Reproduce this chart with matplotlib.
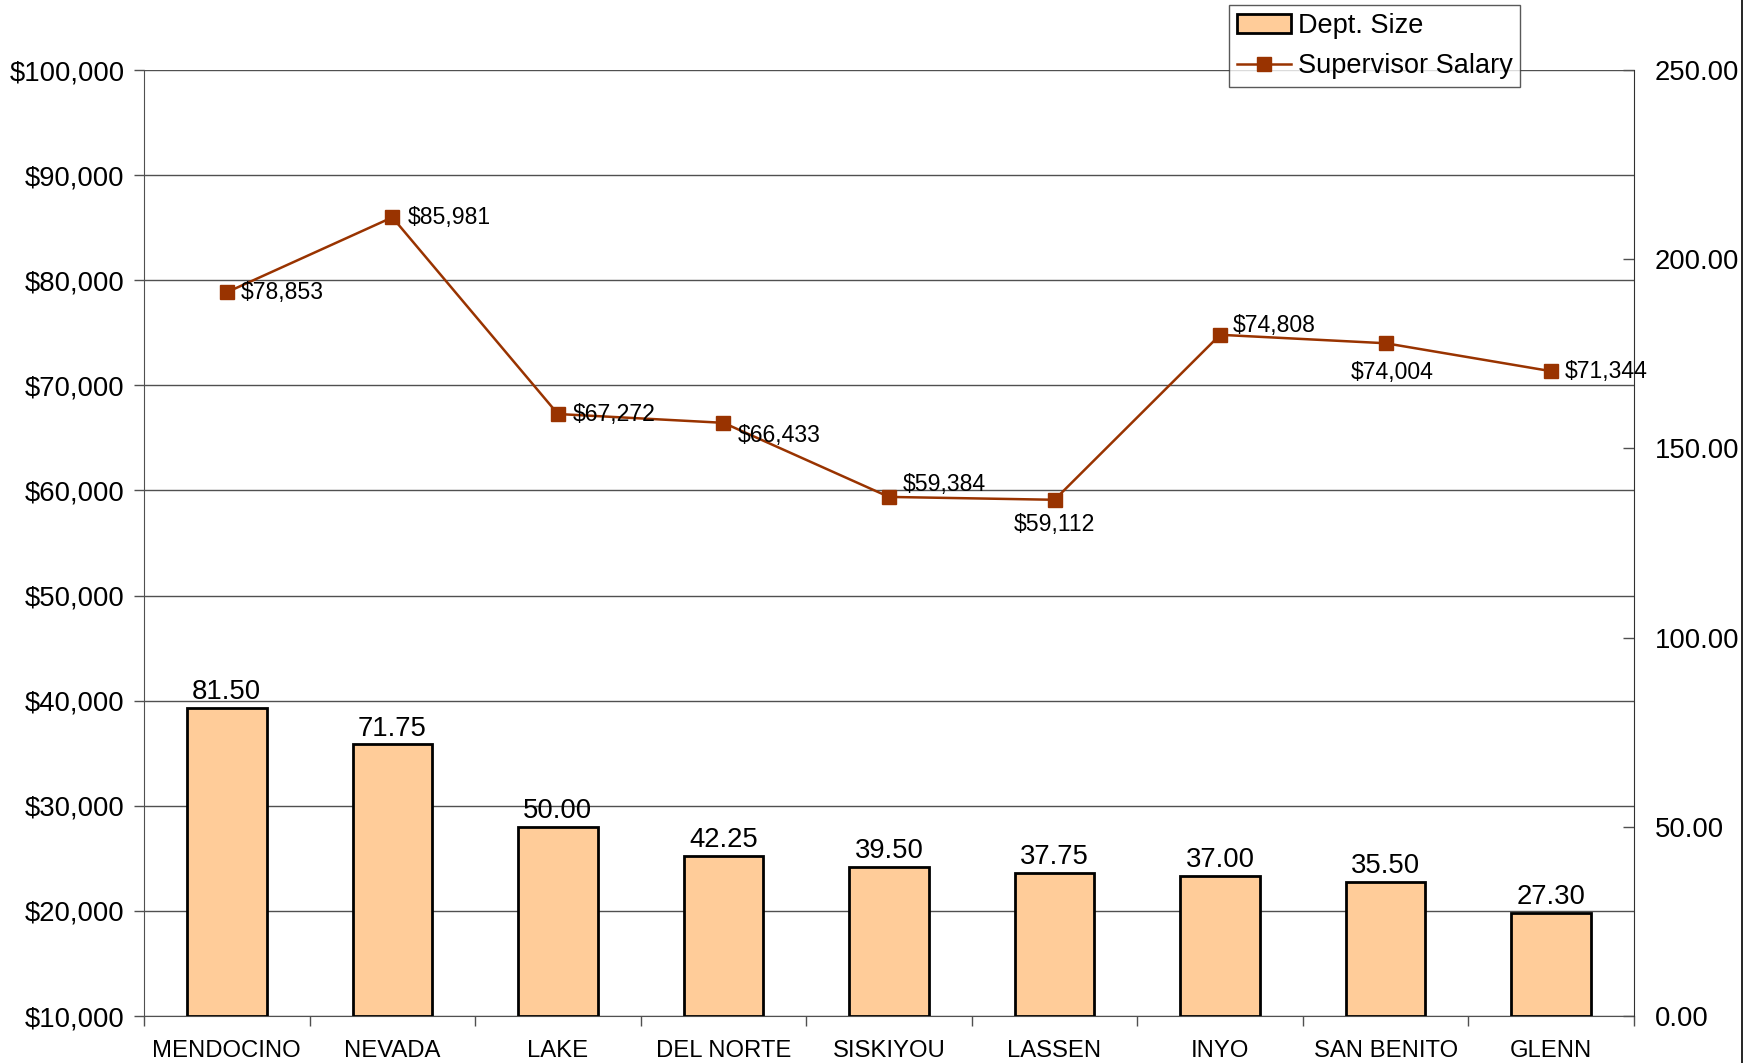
import matplotlib
matplotlib.use("Agg")
import matplotlib.pyplot as plt
from matplotlib.patches import Patch
from matplotlib.lines import Line2D
from matplotlib.ticker import FuncFormatter, FixedLocator

plt.rcParams['font.family'] = ['Liberation Sans', 'DejaVu Sans']

counties = ["MENDOCINO", "NEVADA", "LAKE", "DEL NORTE", "SISKIYOU",
            "LASSEN", "INYO", "SAN BENITO", "GLENN"]
dept_size = [81.50, 71.75, 50.00, 42.25, 39.50, 37.75, 37.00, 35.50, 27.30]
salary = [78853, 85981, 67272, 66433, 59384, 59112, 74808, 74004, 71344]
# label placement for each salary label: (dx, dy) in points, ha, va
salary_label_pos = [
    ((10, 0), 'left', 'center'),
    ((11, 0), 'left', 'center'),
    ((11, 0), 'left', 'center'),
    ((10, -9), 'left', 'center'),
    ((10, 9), 'left', 'center'),
    ((0, -18), 'center', 'center'),
    ((9, 7), 'left', 'center'),
    ((5, -21), 'center', 'center'),
    ((10, 0), 'left', 'center'),
]

BAR_COLOR = '#FFCC99'
LINE_COLOR = '#993300'
GRID_COLOR = '#505050'

fig = plt.figure(figsize=(17.6, 10.63), dpi=100)
L, R, T, B = 144/1760, 1634/1760, 1 - 70/1063, 1 - 1016/1063
ax = fig.add_axes([L, B, R - L, T - B])
ax.set_zorder(0)

x = list(range(len(counties)))
ax.set_xlim(-0.5, len(counties) - 0.5)
ax.set_ylim(10000, 100000)
ax.set_yticks(range(10000, 100001, 10000))
ax.yaxis.set_major_formatter(FuncFormatter(lambda v, p: f"${v:,.0f}"))
ax.grid(axis='y', color=GRID_COLOR, linewidth=1.0)
ax.set_axisbelow(True)
ax.tick_params(axis='y', direction='out', length=7, width=1, color=GRID_COLOR,
               labelsize=19.8, pad=7)
ax.set_xticks(x)
ax.set_xticklabels(counties)
ax.xaxis.set_minor_locator(FixedLocator([i - 0.5 for i in range(len(counties) + 1)]))
ax.tick_params(axis='x', which='major', length=0, labelsize=17.2, pad=17)
ax.tick_params(axis='x', which='minor', direction='out', length=7, width=1, color=GRID_COLOR)
for s in ['top', 'right']:
    ax.spines[s].set_visible(False)
ax.spines['left'].set_color(GRID_COLOR)
ax.spines['bottom'].set_color(GRID_COLOR)

# bars on right axis
ax2 = ax.twinx()
ax2.set_zorder(1)
ax2.patch.set_visible(False)
ax2.set_ylim(0, 250)
ax2.set_yticks(range(0, 251, 50))
ax2.yaxis.set_major_formatter(FuncFormatter(lambda v, p: f"{v:.2f}"))
ax2.tick_params(axis='y', direction='in', length=8, width=1, color=GRID_COLOR,
                labelsize=19.8, pad=15)
bars = ax2.bar(x, dept_size, width=0.48, color=BAR_COLOR, edgecolor='black', linewidth=2)
for xi, v in zip(x, dept_size):
    ax2.annotate(f"{v:.2f}", (xi, v), xytext=(0, 2), textcoords='offset points',
                 ha='center', va='bottom', fontsize=19.8)
for s in ['top', 'left', 'bottom']:
    ax2.spines[s].set_visible(False)
ax2.spines['right'].set_color('#303030')

# line on salary scale, drawn above bars
ax3 = ax.twinx()
ax3.set_zorder(2)
ax3.patch.set_visible(False)
ax3.set_ylim(ax.get_ylim())
ax3.axis('off')
ax3.plot(x, salary, color=LINE_COLOR, linewidth=1.8, marker='s', markersize=10,
         markerfacecolor=LINE_COLOR, markeredgecolor=LINE_COLOR)
for xi, v, (off, ha, va) in zip(x, salary, salary_label_pos):
    ax3.annotate(f"${v:,.0f}", (xi, v), xytext=off, textcoords='offset points',
                 ha=ha, va=va, fontsize=16.6)

handles = [Patch(facecolor=BAR_COLOR, edgecolor='black', linewidth=2),
           Line2D([0], [0], color=LINE_COLOR, linewidth=1.8, marker='s', markersize=10)]
leg = fig.legend(handles, ["Dept. Size", "Supervisor Salary"], loc='upper left',
                 bbox_to_anchor=(1229/1760, 1 - 5/1063), fontsize=19.5,
                 frameon=True, fancybox=False, shadow=False, borderaxespad=0,
                 handlelength=2.0, handletextpad=0.25, labelspacing=0.55,
                 borderpad=0.28)
leg.get_frame().set_edgecolor('#303030')
leg.get_frame().set_linewidth(1.0)

# chart area border at right edge
fig.add_artist(Line2D([1742/1760, 1742/1760], [0, 1], color='black', linewidth=1.2,
                      transform=fig.transFigure))

fig.savefig("out.png", dpi=100)
